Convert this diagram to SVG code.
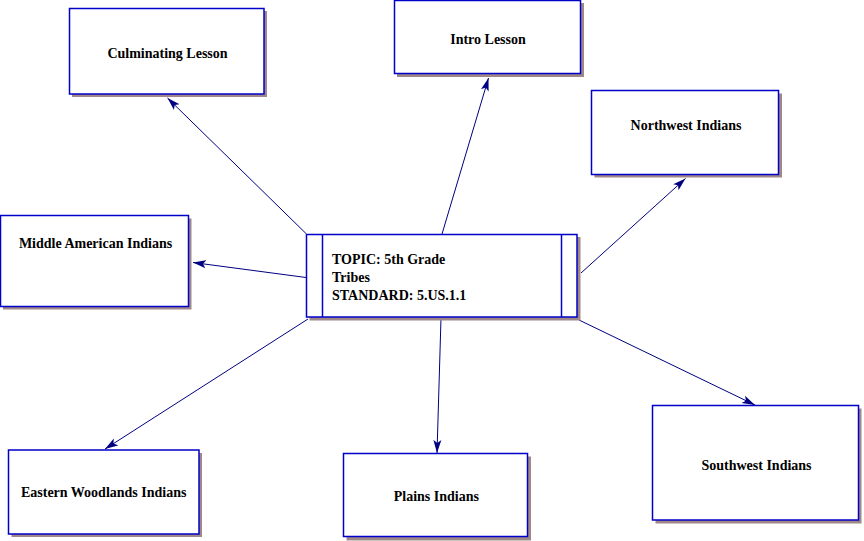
<svg xmlns="http://www.w3.org/2000/svg" width="864" height="541" viewBox="0 0 864 541">
<defs>
<style>
.shadow{fill:#a08888;}
.box{fill:#fff;stroke:#0000c8;stroke-width:1.5;}
.lbl{font-family:"Liberation Serif","Times New Roman",serif;font-weight:bold;font-size:14px;fill:#000;text-anchor:middle;}
.lbl2{font-family:"Liberation Serif","Times New Roman",serif;font-weight:bold;font-size:14px;fill:#000;}
.conn{stroke:#000080;stroke-width:1;fill:none;marker-end:url(#ah);}
</style>
<marker id="ah" markerUnits="userSpaceOnUse" markerWidth="14" markerHeight="10" refX="13" refY="4.5" orient="auto" viewBox="0 0 14 9">
<path d="M0,0.5 L13,4.5 L0,8.5 L3,4.5 z" fill="#000080"/>
</marker>
</defs>
<rect width="864" height="541" fill="#fff"/>
<g id="connectors">
<line class="conn" x1="306.5" y1="234" x2="167.5" y2="98"/>
<line class="conn" x1="442" y1="234" x2="488.5" y2="78"/>
<line class="conn" x1="581" y1="273" x2="685.5" y2="178.5"/>
<line class="conn" x1="306" y1="277.5" x2="193" y2="262.5"/>
<line class="conn" x1="308" y1="319" x2="105" y2="449"/>
<line class="conn" x1="441" y1="318" x2="437" y2="453"/>
<line class="conn" x1="579" y1="320" x2="755" y2="405"/>
</g>
<g id="culminating">
<rect class="shadow" x="72" y="11" width="195" height="86"/>
<rect class="box" x="69.5" y="8.5" width="194.5" height="85.5"/>
<text class="lbl" x="167.5" y="57.5">Culminating Lesson</text>
</g>
<g id="intro">
<rect class="shadow" x="397" y="3" width="187" height="74"/>
<rect class="box" x="394.5" y="0.5" width="186" height="73"/>
<text class="lbl" x="488" y="44">Intro Lesson</text>
</g>
<g id="northwest">
<rect class="shadow" x="594.5" y="93.5" width="187.5" height="84"/>
<rect class="box" x="591.5" y="90.5" width="187" height="84"/>
<text class="lbl" x="686" y="130">Northwest Indians</text>
</g>
<g id="middle">
<rect class="shadow" x="3" y="218.5" width="188.5" height="91"/>
<rect class="box" x="0.5" y="215.5" width="188" height="91"/>
<text class="lbl" x="95.5" y="248">Middle American Indians</text>
</g>
<g id="topic">
<rect class="shadow" x="309.5" y="237" width="271" height="83.5"/>
<rect class="box" x="306.5" y="234.5" width="270.5" height="82.5"/>
<line x1="322.5" y1="234.5" x2="322.5" y2="317" stroke="#0000c8" stroke-width="1.5"/>
<line x1="561.5" y1="234.5" x2="561.5" y2="317" stroke="#0000c8" stroke-width="1.5"/>
<text class="lbl2" x="332" y="264">TOPIC: 5th Grade</text>
<text class="lbl2" x="332" y="282">Tribes</text>
<text class="lbl2" x="332" y="300">STANDARD: 5.US.1.1</text>
</g>
<g id="eastern">
<rect class="shadow" x="11.5" y="453" width="190.5" height="84"/>
<rect class="box" x="8.5" y="450" width="190.5" height="84"/>
<text class="lbl" x="103.7" y="497">Eastern Woodlands Indians</text>
</g>
<g id="plains">
<rect class="shadow" x="346.5" y="456.5" width="184.5" height="84"/>
<rect class="box" x="343.5" y="453.5" width="184" height="83"/>
<text class="lbl" x="436.3" y="501">Plains Indians</text>
</g>
<g id="southwest">
<rect class="shadow" x="655.5" y="408.5" width="206" height="115"/>
<rect class="box" x="652.5" y="405.5" width="206" height="114.5"/>
<text class="lbl" x="756.5" y="470">Southwest Indians</text>
</g>
</svg>
